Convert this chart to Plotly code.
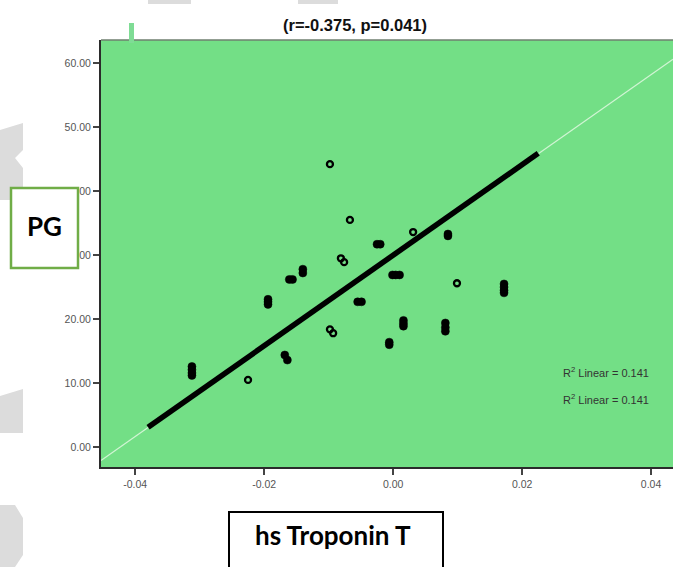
import plotly.graph_objects as go

# ---------------- data ----------------
# single (open-circle) observations
troponin_open = [-0.0098, -0.0067, -0.0081, -0.0076, -0.0098, -0.0093,
                 0.0031, 0.0099, -0.0225]
pg_open = [44.2, 35.5, 29.5, 28.9, 18.4, 17.8,
           33.6, 25.6, 10.5]

# overlapping observations (drawn as solid clusters)
troponin_cluster = [
    -0.0140, -0.0140,
    -0.0161, -0.0156,
    -0.0194, -0.0194, -0.0194,
    -0.0025, -0.0020,
    0.0085, 0.0085,
    -0.0001, 0.0004, 0.0010,
    -0.0055, -0.0049,
    0.0172, 0.0172, 0.0172, 0.0172,
    0.0016, 0.0016, 0.0016,
    0.0081, 0.0081, 0.0081,
    -0.0006, -0.0006,
    -0.0168, -0.0164,
    -0.0312, -0.0312, -0.0312, -0.0312,
]
pg_cluster = [
    27.8, 27.2,
    26.2, 26.2,
    23.1, 22.7, 22.3,
    31.7, 31.7,
    33.3, 33.0,
    26.9, 26.9, 26.9,
    22.7, 22.7,
    25.5, 25.0, 24.5, 24.1,
    19.8, 19.3, 18.9,
    19.4, 18.7, 18.1,
    16.4, 16.0,
    14.4, 13.6,
    12.6, 12.1, 11.6, 11.2,
]

fit_x = [-0.0380, 0.0225]
fit_y = [3.1, 45.9]
fit_ext_x = [-0.0453, 0.0434]
fit_ext_y = [-2.1, 60.6]

x_ticks = [-0.04, -0.02, 0.00, 0.02, 0.04]
x_tick_labels = ["-0.04", "-0.02", "0.00", "0.02", "0.04"]
y_ticks = [0, 10, 20, 30, 40, 50, 60]
y_tick_labels = ["0.00", "10.00", "20.00", "30.00", "40.00", "50.00", "60.00"]

title_text = "(r=-0.375, p=0.041)"
r2_labels = ["R<sup>2</sup> Linear = 0.141", "R<sup>2</sup> Linear = 0.141"]
y_label = "PG"
x_label = "hs Troponin T"

# ---------------- layout geometry ----------------
W, H = 673, 567
L, R, T, B = 101, 0, 40, 100
PW, PH = W - L - R, H - T - B


def px(x):
    return (x - L) / PW


def py(y):
    return (H - B - y) / PH


fig = go.Figure()

fig.add_trace(go.Scatter(
    x=fit_ext_x, y=fit_ext_y, mode="lines",
    line=dict(color="rgba(225,248,225,0.85)", width=1.2),
    hoverinfo="skip", showlegend=False))

fig.add_trace(go.Scatter(
    x=fit_x, y=fit_y, mode="lines",
    line=dict(color="black", width=5.5),
    showlegend=False))

fig.add_trace(go.Scatter(
    x=troponin_cluster, y=pg_cluster, mode="markers",
    marker=dict(symbol="circle", size=8, color="black",
                line=dict(color="black", width=0.5)),
    showlegend=False))

fig.add_trace(go.Scatter(
    x=troponin_open, y=pg_open, mode="markers",
    marker=dict(symbol="circle-open", size=6, color="black",
                line=dict(color="black", width=2.3)),
    showlegend=False))

axis_font = dict(family="Liberation Sans, Arial", size=10.5, color="#555555")

fig.update_xaxes(
    range=[-0.0453, 0.0434], tickvals=x_ticks, ticktext=x_tick_labels,
    showgrid=False, zeroline=False, showline=True, linecolor="#2b2b2b",
    linewidth=2, ticks="outside", ticklen=6, tickwidth=1.5,
    tickcolor="#444444", tickfont=axis_font)
fig.update_yaxes(
    range=[-3.1, 63.6], tickvals=y_ticks, ticktext=y_tick_labels,
    showgrid=False, zeroline=False, showline=True, linecolor="#2b2b2b",
    linewidth=2, ticks="outside", ticklen=6, tickwidth=1.5,
    tickcolor="#444444", tickfont=axis_font)

shapes = []
# top border of plot
shapes.append(dict(type="line", xref="paper", yref="paper", x0=0, x1=1,
                   y0=1, y1=1, line=dict(color="#6f7f6f", width=1.5), layer="above"))
# light green mark at the top-left
shapes.append(dict(type="rect", xref="paper", yref="paper",
                   x0=px(129), x1=px(134), y0=py(43), y1=py(23),
                   fillcolor="#7fdc95", line=dict(width=0), layer="above"))
# gray decorative shapes
gray = "#dcdcdc"
for (a, b) in [(148, 191), (298, 338)]:
    shapes.append(dict(type="rect", xref="paper", yref="paper",
                       x0=px(a), x1=px(b), y0=py(4), y1=py(0),
                       fillcolor=gray, line=dict(width=0), layer="above"))


def poly(points):
    d = "M " + " L ".join(f"{px(x):.4f},{py(y):.4f}" for x, y in points) + " Z"
    return dict(type="path", xref="paper", yref="paper", path=d,
                fillcolor=gray, line=dict(width=0), layer="above")


shapes.append(poly([(0, 130), (23, 123), (23, 150), (15, 158), (23, 168),
                    (23, 195), (10, 200), (0, 200)]))
shapes.append(poly([(0, 396), (23, 389), (23, 433), (0, 433)]))
shapes.append(poly([(0, 505), (15, 505), (23, 518), (23, 555), (15, 567), (0, 567)]))

# PG label box
shapes.append(dict(type="rect", xref="paper", yref="paper",
                   x0=px(11), x1=px(78), y0=py(268), y1=py(188),
                   fillcolor="white", line=dict(color="#70ad47", width=2.5),
                   layer="above"))
# hs Troponin T label box
shapes.append(dict(type="rect", xref="paper", yref="paper",
                   x0=px(229), x1=px(443), y0=py(572), y1=py(512),
                   fillcolor="white", line=dict(color="black", width=2),
                   layer="above"))

annotations = [
    dict(text=f"<b>{title_text}</b>", xref="paper", yref="paper", x=px(355), y=py(25),
         showarrow=False, xanchor="center", yanchor="middle",
         font=dict(family="Liberation Sans, Arial", size=16.5, color="#111111")),
    dict(text=r2_labels[0], xref="paper", yref="paper", x=px(561), y=py(372),
         showarrow=False, xanchor="left", yanchor="middle",
         font=dict(family="Liberation Sans, Arial", size=11, color="#333333")),
    dict(text=r2_labels[1], xref="paper", yref="paper", x=px(561), y=py(399),
         showarrow=False, xanchor="left", yanchor="middle",
         font=dict(family="Liberation Sans, Arial", size=11, color="#333333")),
    dict(text=f"<b>{y_label}</b>", xref="paper", yref="paper", x=px(44.5), y=py(226),
         showarrow=False, xanchor="center", yanchor="middle",
         font=dict(family="Lato, Noto Sans", size=26, color="black")),
    dict(text=f"<b>{x_label}</b>", xref="paper", yref="paper", x=px(333), y=py(535),
         showarrow=False, xanchor="center", yanchor="middle",
         font=dict(family="Lato, Noto Sans", size=26, color="black")),
]

fig.update_layout(
    width=W, height=H,
    margin=dict(l=L, r=R, t=T, b=B, pad=0),
    paper_bgcolor="white", plot_bgcolor="#73df86",
    shapes=shapes, annotations=annotations, showlegend=False,
)

fig.write_html("out.html", config={"displayModeBar": False},
               post_script="document.body.style.margin='0';document.body.style.overflow='hidden';")
